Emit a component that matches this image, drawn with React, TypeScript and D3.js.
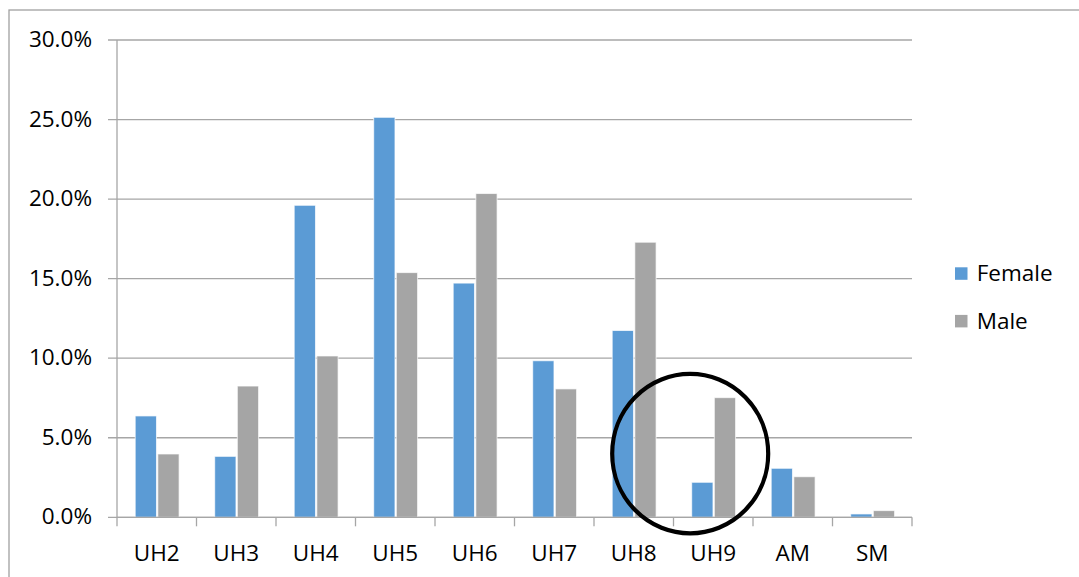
import React from "react";
import * as d3 from "d3";

const categories = ["UH2", "UH3", "UH4", "UH5", "UH6", "UH7", "UH8", "UH9", "AM", "SM"];
const seriesNames = ["Female", "Male"];
const femaleValues = [6.37, 3.83, 19.61, 25.14, 14.72, 9.84, 11.74, 2.2, 3.08, 0.21];
const maleValues = [3.98, 8.25, 10.14, 15.38, 20.35, 8.07, 17.29, 7.52, 2.55, 0.42];
const yTicks = [0, 5, 10, 15, 20, 25, 30];
const colors = ["#5b9bd5", "#a5a5a5"];

const W = 1079;
const H = 577;
const left = 117;
const right = 912;
const top = 40;
const bottom = 517.3;
const FONT = "'Open Sans', 'Noto Sans', sans-serif";
const FS = 22.5;

export default function App() {
  const x = d3.scaleBand<string>().domain(categories).range([left, right]).paddingInner(0).paddingOuter(0);
  const bw = x.bandwidth();
  const x1 = d3
    .scaleBand<string>()
    .domain(seriesNames)
    .range([bw * 0.229, bw * 0.781])
    .paddingInner(0.06);
  const y = d3.scaleLinear().domain([0, 30]).range([bottom, top]);
  const series = [femaleValues, maleValues];
  const grid = "#a6a6a6";

  const hiIdx = categories.indexOf("UH9");
  const hiCx = (x(categories[hiIdx]) as number) + bw * 0.21;
  const hiCy = y(4);

  return (
    <svg width={W} height={H} style={{ position: "absolute", left: 0, top: 0 }} fontFamily={FONT}>
      <rect x={0} y={0} width={W} height={H} fill="#fff" />
      <rect x={9} y={10} width={W + 20} height={H + 20} fill="none" stroke="#a0a0a0" strokeWidth={1.3} />
      {yTicks.map((t) => (
        <g key={t}>
          <line x1={left - 9} x2={right} y1={y(t)} y2={y(t)} stroke={grid} strokeWidth={1.3} />
          <text x={92} y={y(t) + 7} textAnchor="end" fontSize={FS} fill="#000">
            {t.toFixed(1) + "%"}
          </text>
        </g>
      ))}
      <line x1={left} x2={left} y1={top} y2={bottom} stroke={grid} strokeWidth={1.3} />
      {categories.map((c) => (
        <line key={"t" + c} x1={x(c) as number} x2={x(c) as number} y1={bottom} y2={bottom + 9} stroke={grid} strokeWidth={1.3} />
      ))}
      <line x1={right} x2={right} y1={bottom} y2={bottom + 9} stroke={grid} strokeWidth={1.3} />
      {series.map((vals, si) =>
        vals.map((v, i) => {
          const bx = (x(categories[i]) as number) + (x1(seriesNames[si]) as number);
          return (
            <rect
              key={si + "-" + i}
              x={bx}
              y={y(v)}
              width={x1.bandwidth()}
              height={bottom - y(v)}
              fill={colors[si]}
              stroke="#fff"
              strokeOpacity={0.7}
              strokeWidth={1}
            />
          );
        })
      )}
      <line x1={left} x2={right} y1={bottom} y2={bottom} stroke={grid} strokeWidth={1.3} />
      {categories.map((c) => (
        <text key={"l" + c} x={(x(c) as number) + bw / 2} y={560.5} textAnchor="middle" fontSize={FS} fill="#000">
          {c}
        </text>
      ))}
      <ellipse cx={hiCx} cy={hiCy} rx={78} ry={79.7} fill="none" stroke="#000" strokeWidth={4.2} />
      {seriesNames.map((s, i) => (
        <g key={"lg" + s}>
          <rect x={955} y={267.3 + i * 47.6} width={12.5} height={12.5} fill={colors[i]} />
          <text x={976.7} y={281 + i * 47.6} fontSize={FS} fill="#000">
            {s}
          </text>
        </g>
      ))}
    </svg>
  );
}
